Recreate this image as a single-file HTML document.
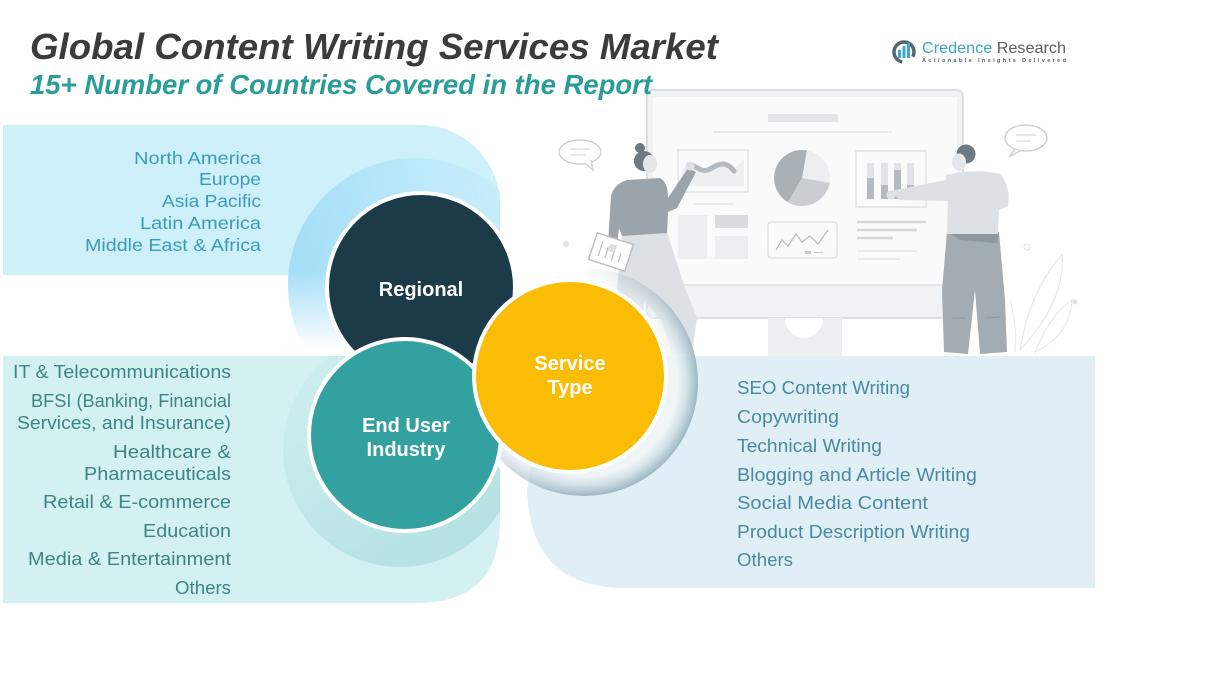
<!DOCTYPE html>
<html><head><meta charset="utf-8"><style>
html,body{margin:0;padding:0;background:#fff;}
svg{display:block;}
text{font-family:"Liberation Sans",Arial,sans-serif;}
</style></head><body>
<svg width="1212" height="693" viewBox="0 0 1212 693" xmlns="http://www.w3.org/2000/svg">
<defs>
  <linearGradient id="gBlue" gradientUnits="userSpaceOnUse" x1="290" y1="240" x2="530" y2="170">
    <stop offset="0" stop-color="#a3ddf7" stop-opacity="1"/>
    <stop offset="0.55" stop-color="#b8e7f9" stop-opacity="0.85"/>
    <stop offset="1" stop-color="#c4ebfa" stop-opacity="0.5"/>
  </linearGradient>
  <linearGradient id="gFadeV" gradientUnits="userSpaceOnUse" x1="0" y1="270" x2="0" y2="350">
    <stop offset="0" stop-color="#fff"/>
    <stop offset="1" stop-color="#000"/>
  </linearGradient>
  <mask id="mBlue" maskUnits="userSpaceOnUse" x="0" y="0" width="1212" height="693">
    <rect x="0" y="0" width="1212" height="693" fill="url(#gFadeV)"/>
  </mask>
  <clipPath id="cBlue"><rect x="0" y="0" width="500" height="356"/></clipPath>
  <clipPath id="cTeal"><path d="M3,356 H440 L500,470 V520 Q500,603 417,603 H3 Z"/></clipPath>
  <linearGradient id="gTeal" gradientUnits="userSpaceOnUse" x1="290" y1="390" x2="390" y2="570">
    <stop offset="0" stop-color="#c6eaea" stop-opacity="0.6"/>
    <stop offset="1" stop-color="#b6e2e2" stop-opacity="1"/>
  </linearGradient>
  <radialGradient id="gGray" gradientUnits="userSpaceOnUse" cx="584" cy="382" r="114">
    <stop offset="0.82" stop-color="#f2f6f8"/>
    <stop offset="0.9" stop-color="#d3e0e6"/>
    <stop offset="1" stop-color="#97b1be"/>
  </radialGradient>
  <linearGradient id="gRingMask" gradientUnits="userSpaceOnUse" x1="530" y1="330" x2="640" y2="420">
    <stop offset="0" stop-color="#000"/>
    <stop offset="1" stop-color="#fff"/>
  </linearGradient>
  <mask id="mRing" maskUnits="userSpaceOnUse" x="0" y="0" width="1212" height="693">
    <rect x="0" y="0" width="1212" height="693" fill="url(#gRingMask)"/>
  </mask>
</defs>

<!-- background panels -->
<path d="M3,125 H420 A80,80 0 0 1 500,205 V300 L330,300 V275 H3 Z" fill="#cdf0fb"/>
<g clip-path="url(#cBlue)">
  <circle cx="415" cy="285" r="127" fill="url(#gBlue)" mask="url(#mBlue)"/>
</g>

<path d="M3,356 H440 L500,470 V520 Q500,603 417,603 H3 Z" fill="#d4f1f1"/>
<g clip-path="url(#cTeal)">
  <circle cx="400" cy="450" r="117" fill="url(#gTeal)"/>
</g>

<path d="M645,356 H1095 V588 H625 Q530,588 527,490 L540,420 Z" fill="#e0eff6"/>

<!-- illustration -->
<g>
  <!-- monitor -->
  <rect x="647" y="90" width="316" height="228" rx="6" fill="#f1f2f3" stroke="#dcdfe2" stroke-width="2"/>
  <rect x="653" y="97" width="304" height="188" fill="#f9fafa"/>
  <line x1="653" y1="285" x2="957" y2="285" stroke="#e0e3e5" stroke-width="1.5"/>
  <rect x="768" y="318" width="74" height="38" fill="#eceeef"/>
  <path d="M785,318 A19,20 0 0 0 823,318 Z" fill="#ffffff"/>
  <!-- screen contents -->
  <rect x="768" y="114" width="70" height="8" fill="#e3e6e8"/>
  <line x1="713" y1="132" x2="892" y2="132" stroke="#e6e8ea" stroke-width="2"/>
  <rect x="678" y="150" width="70" height="42" fill="none" stroke="#dfe2e4" stroke-width="1.5"/>
  <path d="M682,170 C690,160 698,178 708,168 S724,160 732,170 L744,160 V186 H682 Z" fill="#eceef0"/>
  <path d="M688,167 C694,161 700,175 710,169 S726,161 734,171" stroke="#b4bbc0" stroke-width="5" fill="none" stroke-linecap="round"/>
  <line x1="693" y1="204" x2="733" y2="204" stroke="#e3e6e8" stroke-width="1.5"/>
  <circle cx="802" cy="178" r="28" fill="#eceff0"/>
  <path d="M802,178 L806.9,150.4 A28,28 0 0 0 788,202.2 Z" fill="#a9b1b7"/>
  <path d="M802,178 L788,202.2 A28,28 0 0 0 829.6,182.9 Z" fill="#c9ced2"/>
  <rect x="856" y="151" width="70" height="56" fill="none" stroke="#dfe2e4" stroke-width="1.5"/>
  <rect x="867" y="163" width="7" height="36" fill="#e1e4e6"/>
  <rect x="881" y="163" width="7" height="36" fill="#e1e4e6"/>
  <rect x="894" y="163" width="7" height="36" fill="#e1e4e6"/>
  <rect x="907" y="163" width="7" height="36" fill="#e1e4e6"/>
  <rect x="867" y="178" width="7" height="21" fill="#b4bbc0"/>
  <rect x="881" y="185" width="7" height="14" fill="#b4bbc0"/>
  <rect x="894" y="170" width="7" height="29" fill="#b4bbc0"/>
  <rect x="907" y="185" width="7" height="14" fill="#b4bbc0"/>
  <rect x="678" y="215" width="29" height="44" fill="#eceef0"/>
  <rect x="715" y="215" width="33" height="13" fill="#d9dde0"/>
  <rect x="715" y="236" width="33" height="23" fill="#eceef0"/>
  <rect x="768" y="222" width="69" height="36" rx="3" fill="none" stroke="#dfe2e4" stroke-width="1.5"/>
  <polyline points="776,250 782,240 788,246 796,234 802,242 810,236 818,244 828,230" fill="none" stroke="#b4bbc0" stroke-width="1.2"/>
  <rect x="805" y="251" width="6" height="3" fill="#c5cacd"/>
  <line x1="814" y1="252.5" x2="823" y2="252.5" stroke="#c5cacd" stroke-width="1"/>
  <line x1="857" y1="222" x2="926" y2="222" stroke="#d5d9dc" stroke-width="2.5"/>
  <line x1="857" y1="230" x2="917" y2="230" stroke="#d5d9dc" stroke-width="2.5"/>
  <line x1="857" y1="238" x2="893" y2="238" stroke="#d5d9dc" stroke-width="2.5"/>
  <line x1="857" y1="251" x2="917" y2="251" stroke="#e9ebec" stroke-width="2"/>
  <line x1="857" y1="259" x2="900" y2="259" stroke="#e9ebec" stroke-width="2"/>

  <!-- speech bubbles -->
  <ellipse cx="580" cy="152" rx="21" ry="12" fill="#fff" stroke="#cdd2d5" stroke-width="1.5"/>
  <path d="M585,163 L593,170 L591,160" fill="#fff" stroke="#cdd2d5" stroke-width="1.5"/>
  <line x1="570" y1="149" x2="590" y2="149" stroke="#d5d9dc" stroke-width="1.2"/>
  <line x1="570" y1="155" x2="585" y2="155" stroke="#d5d9dc" stroke-width="1.2"/>
  <ellipse cx="1026" cy="138" rx="21" ry="13" fill="#fff" stroke="#cdd2d5" stroke-width="1.5"/>
  <path d="M1015,149 L1009,157 L1020,151" fill="#fff" stroke="#cdd2d5" stroke-width="1.5"/>
  <line x1="1016" y1="135" x2="1036" y2="135" stroke="#d5d9dc" stroke-width="1.2"/>
  <line x1="1016" y1="141" x2="1031" y2="141" stroke="#d5d9dc" stroke-width="1.2"/>

  <!-- dots & leaves -->
  <circle cx="566" cy="244" r="3" fill="#e0e3e5"/>
  <circle cx="1075" cy="302" r="2.5" fill="#e0e3e5"/>
  <circle cx="1027" cy="247" r="3" fill="none" stroke="#e3e6e8" stroke-width="1"/>
  <path d="M1020,350 Q1030,290 1062,255 Q1066,300 1020,350 Z" fill="none" stroke="#e6e8ea" stroke-width="1.2"/>
  <path d="M1035,352 Q1050,315 1072,300 Q1070,335 1035,352 Z" fill="none" stroke="#e8eaec" stroke-width="1.2"/>
  <path d="M1010,300 Q1018,330 1015,352" fill="none" stroke="#e8eaec" stroke-width="1"/>

  <!-- woman -->
  <path d="M622,234 L667,232 L684,285 L697,318 L692,352 L672,356 L662,322 L645,300 L634,356 L616,356 L616,300 Z" fill="#dde1e4"/>
  <path d="M627,180 L660,178 Q668,182 668,198 L688,168 L696,172 L677,208 L668,212 L667,233 L622,236 L619,228 L617,246 L608,244 L611,196 Q614,184 627,180 Z" fill="#9ba4ab"/>
  <circle cx="690" cy="166" r="4.5" fill="#dfe2e4"/>
  <circle cx="640" cy="148" r="5" fill="#6e7981"/>
  <circle cx="644" cy="161" r="10" fill="#6e7981"/>
  <ellipse cx="650" cy="164" rx="7" ry="9" fill="#e4e7e9"/>
  <g transform="rotate(18 611 252)">
    <rect x="592" y="238" width="38" height="28" fill="#fff" stroke="#b9c0c5" stroke-width="1.5"/>
    <line x1="600" y1="244" x2="600" y2="260" stroke="#b9c0c5" stroke-width="1.2"/>
    <line x1="607" y1="248" x2="607" y2="260" stroke="#b9c0c5" stroke-width="1.2"/>
    <line x1="614" y1="244" x2="614" y2="260" stroke="#b9c0c5" stroke-width="1.2"/>
    <line x1="621" y1="250" x2="621" y2="260" stroke="#b9c0c5" stroke-width="1.2"/>
  </g>
  <circle cx="612" cy="248" r="4" fill="#dfe2e4"/>

  <!-- man -->
  <path d="M947,232 L999,232 L1005,300 L1007,352 L980,354 L975,290 L968,354 L944,352 L942,290 Z" fill="#a4acb3"/>
  <path d="M947,232 L999,232 L997,243 L960,240 Z" fill="#8d979e"/>
  <line x1="952" y1="318" x2="966" y2="318" stroke="#8d979e" stroke-width="1"/>
  <line x1="985" y1="318" x2="1000" y2="317" stroke="#8d979e" stroke-width="1"/>
  <path d="M946,175 Q975,168 1000,174 Q1011,186 1008,206 L999,210 L998,234 L947,234 L948,201 L900,200 L890,191 L946,180 Z" fill="#dee1e3"/>
  <circle cx="891" cy="195" r="4.5" fill="#dfe2e4"/>
  <circle cx="966" cy="154" r="9.5" fill="#6e7981"/>
  <ellipse cx="959" cy="162" rx="7" ry="8.5" fill="#e4e7e9"/>
</g>

<!-- gray ring around service -->
<circle cx="584" cy="382" r="114" fill="url(#gGray)" fill-opacity="0.9" mask="url(#mRing)"/>

<!-- circles -->
<circle cx="421" cy="287" r="94" fill="#1b3b48" stroke="#ffffff" stroke-width="4"/>
<circle cx="405" cy="435" r="96" fill="#33a1a0" stroke="#ffffff" stroke-width="4"/>
<circle cx="570" cy="376" r="96" fill="#fbbc05" stroke="#ffffff" stroke-width="4"/>

<text x="421" y="296" text-anchor="middle" font-size="20" font-weight="bold" fill="#ffffff">Regional</text>
<text x="406" y="432" text-anchor="middle" font-size="20" font-weight="bold" fill="#ffffff">End User</text>
<text x="406" y="456" text-anchor="middle" font-size="20" font-weight="bold" fill="#ffffff">Industry</text>
<text x="570" y="370" text-anchor="middle" font-size="20" font-weight="bold" fill="#ffffff">Service</text>
<text x="570" y="394" text-anchor="middle" font-size="20" font-weight="bold" fill="#ffffff">Type</text>

<!-- header -->
<text x="30" y="59" font-size="36" font-weight="bold" font-style="italic" fill="#3b3b3b" textLength="688" lengthAdjust="spacingAndGlyphs">Global Content Writing Services Market</text>
<text x="30" y="94" font-size="27.5" font-weight="bold" font-style="italic" fill="#2a9d98" textLength="622" lengthAdjust="spacingAndGlyphs">15+ Number of Countries Covered in the Report</text>

<!-- logo -->
<circle cx="904" cy="52" r="10" fill="none" stroke="#516874" stroke-width="3.5" stroke-dasharray="50 13" transform="rotate(100 904 52)"/>
<rect x="898" y="50" width="3" height="8" fill="#3ba9d3"/>
<rect x="902.5" y="46" width="3" height="12" fill="#3ba9d3"/>
<rect x="907" y="43" width="3" height="15" fill="#3ba9d3"/>
<text x="922" y="53" font-size="16" textLength="144" lengthAdjust="spacingAndGlyphs"><tspan fill="#3aa6cc">Credence</tspan><tspan fill="#5a5f63"> Research</tspan></text>
<text x="922" y="62" font-size="5.5" font-weight="bold" fill="#5a5f63" textLength="144" lengthAdjust="spacing">Actionable Insights Delivered</text>

<!-- top-left list -->
<g font-size="17.5" fill="#3a9cbd">
  <text x="134" y="164" textLength="127" lengthAdjust="spacingAndGlyphs">North America</text>
  <text x="199" y="185" textLength="62" lengthAdjust="spacingAndGlyphs">Europe</text>
  <text x="162" y="207" textLength="99" lengthAdjust="spacingAndGlyphs">Asia Pacific</text>
  <text x="140" y="229" textLength="121" lengthAdjust="spacingAndGlyphs">Latin America</text>
  <text x="85" y="251" textLength="176" lengthAdjust="spacingAndGlyphs">Middle East &amp; Africa</text>
</g>

<!-- bottom-left list -->
<g font-size="18.5" fill="#3d8585">
  <text x="13" y="378" textLength="218" lengthAdjust="spacingAndGlyphs">IT &amp; Telecommunications</text>
  <text x="31" y="407" textLength="200" lengthAdjust="spacingAndGlyphs">BFSI (Banking, Financial</text>
  <text x="17" y="429" textLength="214" lengthAdjust="spacingAndGlyphs">Services, and Insurance)</text>
  <text x="113" y="458" textLength="118" lengthAdjust="spacingAndGlyphs">Healthcare &amp;</text>
  <text x="84" y="480" textLength="147" lengthAdjust="spacingAndGlyphs">Pharmaceuticals</text>
  <text x="43" y="508" textLength="188" lengthAdjust="spacingAndGlyphs">Retail &amp; E-commerce</text>
  <text x="143" y="537" textLength="88" lengthAdjust="spacingAndGlyphs">Education</text>
  <text x="28" y="565" textLength="203" lengthAdjust="spacingAndGlyphs">Media &amp; Entertainment</text>
  <text x="175" y="594" textLength="56" lengthAdjust="spacingAndGlyphs">Others</text>
</g>

<!-- right list -->
<g font-size="18.5" fill="#4a8aa0">
  <text x="737" y="394" textLength="173" lengthAdjust="spacingAndGlyphs">SEO Content Writing</text>
  <text x="737" y="423" textLength="102" lengthAdjust="spacingAndGlyphs">Copywriting</text>
  <text x="737" y="452" textLength="145" lengthAdjust="spacingAndGlyphs">Technical Writing</text>
  <text x="737" y="481" textLength="240" lengthAdjust="spacingAndGlyphs">Blogging and Article Writing</text>
  <text x="737" y="509" textLength="191" lengthAdjust="spacingAndGlyphs">Social Media Content</text>
  <text x="737" y="538" textLength="233" lengthAdjust="spacingAndGlyphs">Product Description Writing</text>
  <text x="737" y="566" textLength="56" lengthAdjust="spacingAndGlyphs">Others</text>
</g>
</svg>
</body></html>
